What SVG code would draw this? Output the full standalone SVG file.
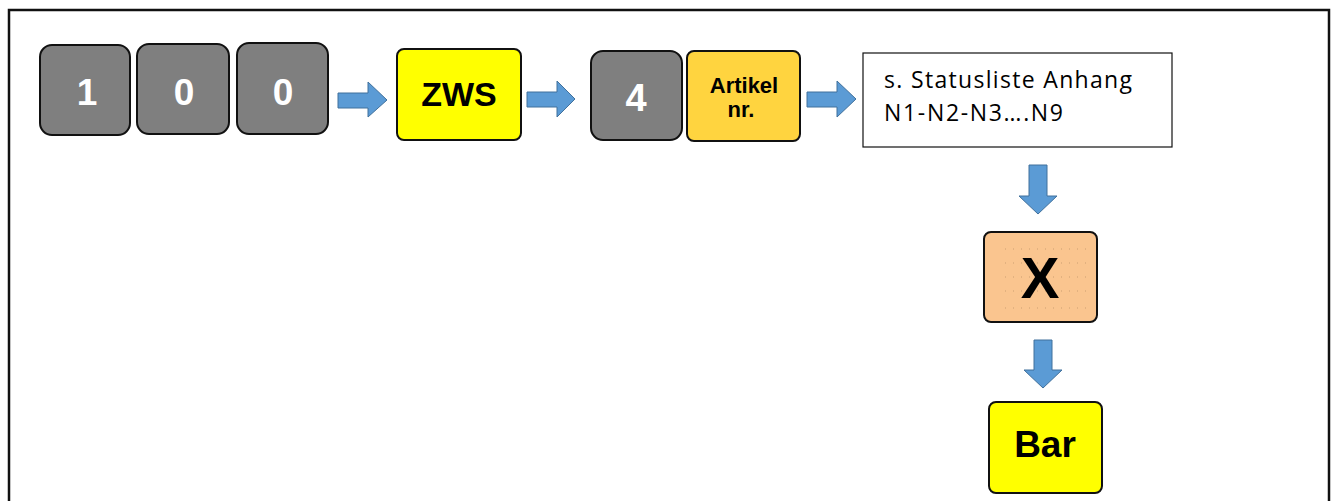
<svg xmlns="http://www.w3.org/2000/svg" width="1336" height="501" viewBox="0 0 1336 501">
<defs>
<style>
.key{fill:#7f7f7f;stroke:#111;stroke-width:2}
.yel{fill:#ffff00;stroke:#111;stroke-width:2}
.org{fill:#ffd43f;stroke:#111;stroke-width:2}
.pch{fill:#fac58f;stroke:#111;stroke-width:2}
.arr{fill:#5b9bd5;stroke:#41719c;stroke-width:1}
.kt{font-family:"Liberation Sans",Arial,sans-serif;font-weight:bold;fill:#fff;text-anchor:middle}
.bt{font-family:"Liberation Sans",Arial,sans-serif;font-weight:bold;fill:#000;text-anchor:middle}
.st{font-family:"Open Sans","Noto Sans",sans-serif;fill:#000;font-size:23px}
.dot{stroke:#b08a60;stroke-width:1.2;stroke-dasharray:1 7;opacity:0.6}
</style>
</defs>
<rect x="0" y="0" width="1336" height="501" fill="#fff"/>
<rect x="9" y="10" width="1320" height="500" fill="none" stroke="#111" stroke-width="2.5"/>
<g id="connectors">
<path class="arr" d="M338,93 H368 V82 L387,100 L368,117 V108 H338 Z"/>
<path class="arr" d="M527,92 H557 V81 L575,99 L557,117 V107 H527 Z"/>
<path class="arr" d="M807,92 H837 V81 L856,99 L837,117 V107 H807 Z"/>
<path class="arr" d="M1029,165 H1047 V196 H1057 L1038,214 L1019,196 H1029 Z"/>
<path class="arr" d="M1034,340 H1052 V370 H1062 L1043,388 L1024,370 H1034 Z"/>
</g>
<g id="key1"><rect class="key" x="40" y="45" width="90" height="90" rx="12"/><text class="kt" x="87" y="105" font-size="37">1</text></g>
<g id="key0a"><rect class="key" x="137" y="44" width="92" height="90" rx="12"/><text class="kt" x="184" y="105" font-size="37">0</text></g>
<g id="key0b"><rect class="key" x="237" y="43" width="91" height="91" rx="12"/><text class="kt" x="283" y="105" font-size="37">0</text></g>
<g id="zws"><rect class="yel" x="397" y="49" width="124" height="91" rx="7"/><text class="bt" x="459" y="106" font-size="34">ZWS</text></g>
<g id="key4"><rect class="key" x="591" y="51" width="91" height="89" rx="12"/><text class="kt" x="636" y="111" font-size="38">4</text></g>
<g id="artikel"><rect class="org" x="687" y="51" width="113" height="90" rx="7"/><text class="bt" x="744" y="93" font-size="22">Artikel</text><text class="bt" x="741" y="117" font-size="22">nr.</text></g>
<g id="statusliste"><rect x="863" y="53" width="309" height="94" fill="#fff" stroke="#111" stroke-width="1.2"/><text class="st" x="884" y="88" textLength="248" lengthAdjust="spacing">s. Statusliste Anhang</text><text class="st" x="884" y="121" textLength="179" lengthAdjust="spacing">N1-N2-N3….N9</text></g>
<g id="x"><rect class="pch" x="984" y="232" width="113" height="90" rx="7"/>
<line class="dot" x1="1005" y1="249" x2="1090" y2="249"/><line class="dot" x1="1005" y1="263" x2="1090" y2="263"/><line class="dot" x1="1005" y1="277" x2="1090" y2="277"/><line class="dot" x1="1005" y1="291" x2="1090" y2="291"/><line class="dot" x1="1005" y1="308" x2="1090" y2="308"/>
<text class="bt" x="1040" y="298" font-size="58">X</text></g>
<g id="bar"><rect class="yel" x="989" y="402" width="113" height="91" rx="7"/><text class="bt" x="1045" y="457" font-size="37">Bar</text></g>
</svg>
